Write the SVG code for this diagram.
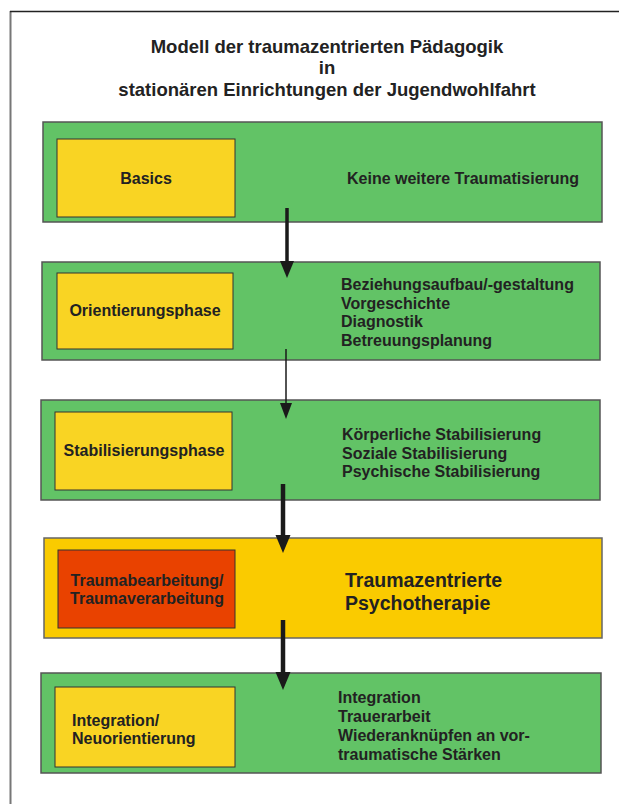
<svg xmlns="http://www.w3.org/2000/svg" width="619" height="804" viewBox="0 0 619 804">
<style>
text{font-family:"Liberation Sans",Arial,sans-serif;font-weight:bold;fill:#222;}
.t{font-size:18.5px;text-anchor:middle;}
.b{font-size:16px;}
.c{text-anchor:middle;}
.big{font-size:19.5px;}
.green{fill:#62C366;stroke:#555;stroke-width:1.5;}
.yel{fill:#F9D423;stroke:#333;stroke-width:1;}
.gold{fill:#FACB00;stroke:#666;stroke-width:1.5;}
.red{fill:#E94200;stroke:#333;stroke-width:1;}
.ar{stroke:#1a1a1a;fill:none;}
.hd{fill:#1a1a1a;}
</style>
<rect width="619" height="804" fill="#fff"/>
<g id="frame">
<line x1="10.5" y1="11" x2="10.5" y2="804" stroke="#777" stroke-width="2"/>
<line x1="10" y1="11.5" x2="619" y2="11.5" stroke="#222" stroke-width="1.5"/>
</g>
<g id="title">
<text class="t" x="327" y="52.5">Modell der traumazentrierten Pädagogik</text>
<text class="t" x="327" y="74">in</text>
<text class="t" x="327" y="95.5">stationären Einrichtungen der Jugendwohlfahrt</text>
</g>
<g id="basics">
<rect class="green" x="43" y="122" width="559" height="100"/>
<rect class="yel" x="57" y="139" width="178" height="78"/>
<text class="b c" x="146" y="184">Basics</text>
<text class="b" x="347" y="184">Keine weitere Traumatisierung</text>
</g>
<g id="orientierung">
<rect class="green" x="42" y="262" width="558" height="98"/>
<rect class="yel" x="57" y="273" width="176" height="76"/>
<text class="b c" x="145" y="316">Orientierungsphase</text>
<text class="b" x="341" y="290">Beziehungsaufbau/-gestaltung</text>
<text class="b" x="341" y="308.5">Vorgeschichte</text>
<text class="b" x="341" y="327">Diagnostik</text>
<text class="b" x="341" y="345.5">Betreuungsplanung</text>
</g>
<g id="stabilisierung">
<rect class="green" x="41" y="400" width="559" height="100"/>
<rect class="yel" x="55" y="412" width="177" height="78"/>
<text class="b c" x="144" y="456">Stabilisierungsphase</text>
<text class="b" x="342" y="440">Körperliche Stabilisierung</text>
<text class="b" x="342" y="458.5">Soziale Stabilisierung</text>
<text class="b" x="342" y="477">Psychische Stabilisierung</text>
</g>
<g id="traumaarbeit">
<rect class="gold" x="44" y="538" width="558" height="100"/>
<rect class="red" x="58" y="550" width="177" height="78"/>
<text class="b c" x="147" y="586">Traumabearbeitung/</text>
<text class="b c" x="147" y="604">Traumaverarbeitung</text>
<text class="big" x="345" y="587">Traumazentrierte</text>
<text class="big" x="345" y="610">Psychotherapie</text>
</g>
<g id="integration">
<rect class="green" x="41" y="673" width="560" height="100"/>
<rect class="yel" x="55" y="687" width="180" height="80"/>
<text class="b" x="72" y="726">Integration/</text>
<text class="b" x="72" y="744">Neuorientierung</text>
<text class="b" x="338" y="703">Integration</text>
<text class="b" x="338" y="722">Trauerarbeit</text>
<text class="b" x="338" y="741">Wiederanknüpfen an vor-</text>
<text class="b" x="338" y="760">traumatische Stärken</text>
</g>
<g id="connectors">
<line class="ar" x1="287" y1="208" x2="287" y2="263" stroke-width="3.5"/>
<polygon class="hd" points="280,261 294,261 287,278"/>
<line class="ar" x1="286" y1="349" x2="286" y2="405" stroke-width="1.5"/>
<polygon class="hd" points="280,403 292,403 286,419"/>
<line class="ar" x1="283" y1="484" x2="283" y2="537" stroke-width="4.5"/>
<polygon class="hd" points="275.5,535 290.5,535 283,553"/>
<line class="ar" x1="283" y1="620" x2="283" y2="674" stroke-width="4.5"/>
<polygon class="hd" points="275.5,672 290.5,672 283,690"/>
</g>
</svg>
